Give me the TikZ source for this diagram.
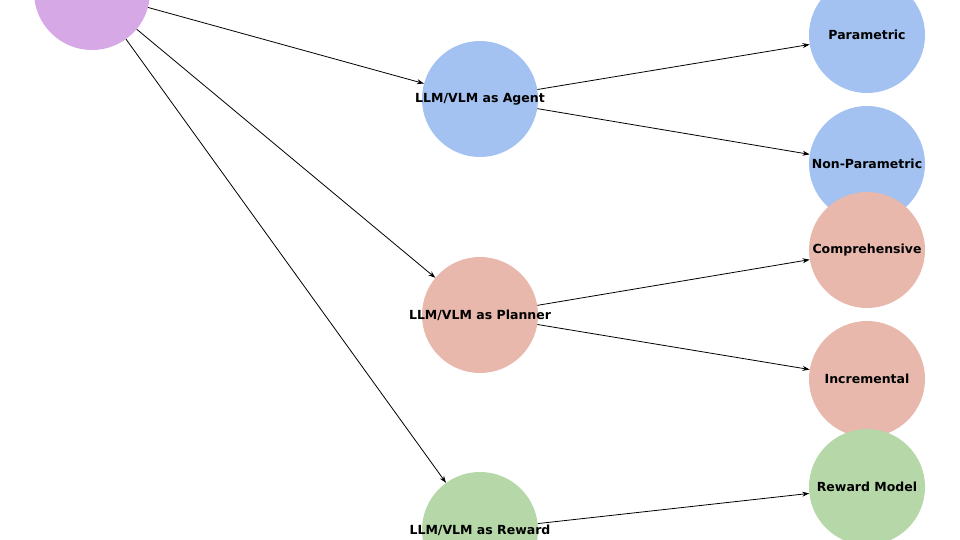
\documentclass[tikz,border=0pt]{standalone}
\usepackage{fontspec}
\setmainfont{DejaVu Sans}
\usetikzlibrary{arrows.meta}
\definecolor{cagent}{HTML}{A3C2F2}
\definecolor{cplan}{HTML}{E8B8AC}
\definecolor{crew}{HTML}{B6D7A8}
\definecolor{croot}{HTML}{D6A8E6}
\tikzset{
	bub/.style = {circle, minimum size = 116pt, inner sep = 0pt},
	lab/.style = {font = \bfseries\fontsize{12.5}{14}\selectfont},
	arr/.style = {-{Stealth[length = 7pt, width = 5pt]}, thick}
}
\begin{document}
\begin{tikzpicture}[x = 1pt, y = -1pt]
		\useasboundingbox (0, 0) rectangle (960, 540);
		\clip (0, 0) rectangle (960, 540);
		\node [bub, fill = croot] (root) at (92, -8) {};
		\node [bub, fill = cagent] (agent) at (480, 99) {};
		\node [bub, fill = cplan] (plan) at (480, 315) {};
		\node [bub, fill = crew] (rew) at (480, 530) {};
		\node [bub, fill = cagent] (par) at (867, 35) {};
		\node [bub, fill = cagent] (npar) at (867, 164) {};
		\node [bub, fill = cplan] (comp) at (867, 250) {};
		\node [bub, fill = cplan] (incr) at (867, 379) {};
		\node [bub, fill = crew] (rmod) at (867, 487) {};
		\node [bub, fill = crew] (rnext) at (867, 600) {};
		\draw [arr] (root) -- (agent);
		\draw [arr] (root) -- (plan);
		\draw [arr] (root) -- (rew);
		\draw [arr] (agent) -- (par);
		\draw [arr] (agent) -- (npar);
		\draw [arr] (plan) -- (comp);
		\draw [arr] (plan) -- (incr);
		\draw [arr] (rew) -- (rmod);
		\draw [arr] (rew) -- (rnext);
		\node [lab] at (agent) {LLM/VLM as Agent};
		\node [lab] at (plan) {LLM/VLM as Planner};
		\node [lab] at (rew) {LLM/VLM as Reward};
		\node [lab] at (par) {Parametric};
		\node [lab] at (npar) {Non-Parametric};
		\node [lab] at (comp) {Comprehensive};
		\node [lab] at (incr) {Incremental};
		\node [lab] at (rmod) {Reward Model};
	\end{tikzpicture}
\end{document}
